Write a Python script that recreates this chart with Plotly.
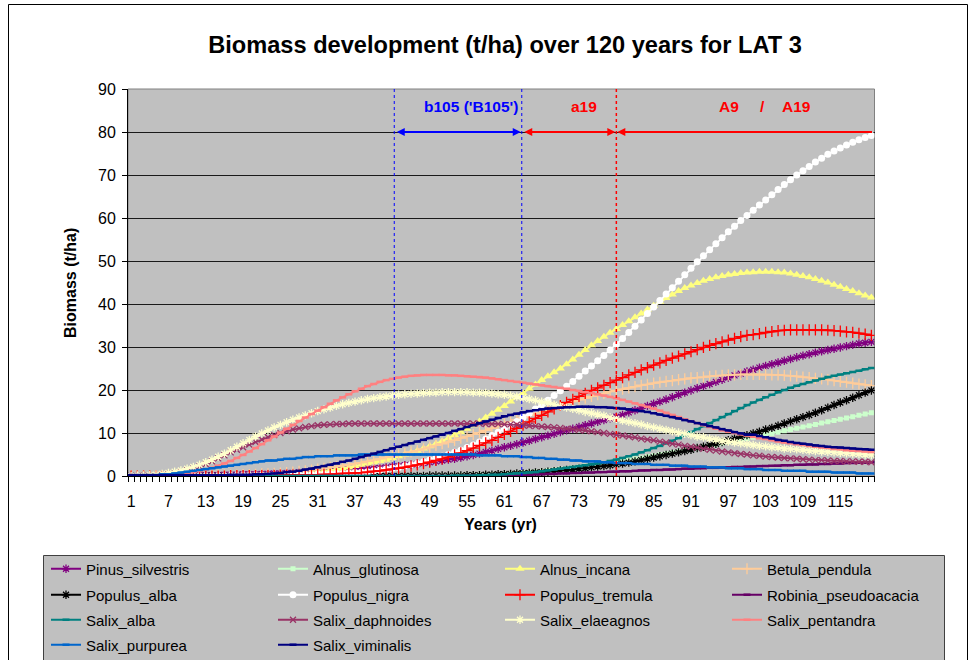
import plotly.graph_objects as go

# ---- data -------------------------------------------------------------
years = list(range(1, 121))
year_ticks = list(range(1, 121, 6))

species = [
    "Pinus_silvestris", "Alnus_glutinosa", "Alnus_incana", "Betula_pendula",
    "Populus_alba", "Populus_nigra", "Populus_tremula", "Robinia_pseudoacacia",
    "Salix_alba", "Salix_daphnoides", "Salix_elaeagnos", "Salix_pentandra",
    "Salix_purpurea", "Salix_viminalis",
]

pinus_silvestris = [
    0.0, 0.0, 0.0, 0.0, 0.0, 0.1, 0.1, 0.1, 0.1, 0.1,
    0.1, 0.2, 0.2, 0.2, 0.2, 0.3, 0.3, 0.3, 0.4, 0.4,
    0.4, 0.5, 0.5, 0.6, 0.6, 0.7, 0.7, 0.8, 0.9, 0.9,
    1.0, 1.1, 1.2, 1.3, 1.4, 1.5, 1.6, 1.7, 1.8, 1.8,
    1.9, 2.0, 2.2, 2.3, 2.5, 2.6, 2.8, 3.0, 3.2, 3.4,
    3.6, 3.8, 4.0, 4.3, 4.6, 4.9, 5.2, 5.6, 5.9, 6.3,
    6.7, 7.0, 7.4, 7.8, 8.2, 8.6, 9.0, 9.4, 9.8, 10.2,
    10.6, 11.0, 11.4, 11.8, 12.2, 12.6, 13.0, 13.4, 13.8, 14.2,
    14.8, 15.3, 15.8, 16.3, 16.8, 17.3, 17.8, 18.3, 18.9, 19.4,
    19.9, 20.4, 20.9, 21.4, 21.9, 22.4, 22.9, 23.4, 23.8, 24.3,
    24.7, 25.2, 25.6, 26.0, 26.4, 26.8, 27.2, 27.6, 28.0, 28.3,
    28.7, 29.0, 29.3, 29.6, 29.9, 30.2, 30.5, 30.8, 31.0, 31.2,
]
alnus_glutinosa = [
    0.0, 0.0, 0.0, 0.0, 0.0, 0.0, 0.0, 0.0, 0.0, 0.0,
    0.0, 0.0, 0.0, 0.0, 0.0, 0.0, 0.0, 0.0, 0.0, 0.0,
    0.0, 0.0, 0.0, 0.0, 0.0, 0.0, 0.0, 0.0, 0.0, 0.0,
    0.0, 0.0, 0.0, 0.0, 0.0, 0.0, 0.0, 0.0, 0.0, 0.0,
    0.0, 0.0, 0.0, 0.0, 0.0, 0.0, 0.0, 0.1, 0.1, 0.1,
    0.1, 0.1, 0.1, 0.2, 0.2, 0.2, 0.3, 0.3, 0.4, 0.4,
    0.5, 0.6, 0.7, 0.8, 0.9, 1.0, 1.1, 1.3, 1.4, 1.6,
    1.7, 1.9, 2.1, 2.3, 2.5, 2.7, 2.9, 3.1, 3.3, 3.5,
    3.8, 4.0, 4.2, 4.5, 4.7, 5.0, 5.2, 5.5, 5.7, 6.0,
    6.2, 6.5, 6.8, 7.0, 7.3, 7.6, 7.9, 8.1, 8.4, 8.7,
    9.0, 9.3, 9.6, 9.9, 10.2, 10.5, 10.8, 11.1, 11.4, 11.7,
    12.0, 12.3, 12.6, 12.9, 13.2, 13.5, 13.8, 14.1, 14.4, 14.7,
]
alnus_incana = [
    0.0, 0.0, 0.0, 0.0, 0.0, 0.0, 0.0, 0.0, 0.0, 0.0,
    0.0, 0.0, 0.0, 0.0, 0.1, 0.1, 0.1, 0.1, 0.2, 0.2,
    0.2, 0.3, 0.3, 0.4, 0.4, 0.5, 0.6, 0.6, 0.7, 0.8,
    1.0, 1.1, 1.3, 1.5, 1.7, 2.0, 2.3, 2.6, 2.9, 3.2,
    3.5, 3.8, 4.2, 4.6, 5.0, 5.4, 5.9, 6.4, 6.9, 7.5,
    8.1, 8.8, 9.5, 10.2, 11.0, 11.8, 12.7, 13.6, 14.5, 15.4,
    16.3, 17.3, 18.3, 19.3, 20.3, 21.3, 22.3, 23.2, 24.1, 25.0,
    26.0, 27.1, 28.2, 29.3, 30.4, 31.4, 32.4, 33.3, 34.2, 35.1,
    36.0, 36.9, 37.8, 38.7, 39.6, 40.5, 41.4, 42.2, 43.0, 43.7,
    44.3, 44.9, 45.4, 45.8, 46.2, 46.5, 46.8, 47.0, 47.2, 47.3,
    47.4, 47.5, 47.5, 47.5, 47.4, 47.3, 47.1, 46.8, 46.5, 46.2,
    45.8, 45.4, 45.0, 44.5, 44.0, 43.5, 43.0, 42.5, 42.0, 41.5,
]
betula_pendula = [
    0.0, 0.0, 0.0, 0.0, 0.0, 0.0, 0.0, 0.0, 0.0, 0.1,
    0.1, 0.1, 0.1, 0.1, 0.2, 0.2, 0.2, 0.2, 0.3, 0.3,
    0.4, 0.5, 0.5, 0.6, 0.7, 0.8, 0.9, 1.1, 1.2, 1.4,
    1.6, 1.8, 2.0, 2.2, 2.4, 2.6, 2.9, 3.1, 3.4, 3.7,
    4.0, 4.3, 4.6, 4.9, 5.2, 5.6, 5.9, 6.3, 6.7, 7.1,
    7.5, 7.9, 8.3, 8.8, 9.2, 9.7, 10.1, 10.6, 11.1, 11.6,
    12.1, 12.6, 13.1, 13.6, 14.1, 14.6, 15.1, 15.6, 16.0, 16.5,
    16.9, 17.3, 17.7, 18.1, 18.5, 18.9, 19.2, 19.6, 19.9, 20.2,
    20.5, 20.8, 21.1, 21.3, 21.6, 21.8, 22.0, 22.2, 22.4, 22.6,
    22.8, 22.9, 23.0, 23.2, 23.3, 23.4, 23.5, 23.5, 23.6, 23.6,
    23.6, 23.6, 23.6, 23.5, 23.5, 23.4, 23.3, 23.2, 23.0, 22.9,
    22.7, 22.6, 22.4, 22.2, 22.0, 21.8, 21.6, 21.4, 21.2, 21.0,
]
populus_alba = [
    0.0, 0.0, 0.0, 0.0, 0.0, 0.0, 0.0, 0.0, 0.0, 0.0,
    0.0, 0.0, 0.0, 0.0, 0.0, 0.0, 0.0, 0.0, 0.0, 0.0,
    0.0, 0.0, 0.0, 0.0, 0.0, 0.0, 0.0, 0.0, 0.0, 0.0,
    0.0, 0.0, 0.0, 0.0, 0.0, 0.0, 0.0, 0.0, 0.0, 0.0,
    0.0, 0.0, 0.0, 0.0, 0.0, 0.0, 0.0, 0.0, 0.1, 0.1,
    0.1, 0.1, 0.1, 0.1, 0.2, 0.2, 0.2, 0.3, 0.3, 0.4,
    0.4, 0.5, 0.6, 0.6, 0.7, 0.8, 0.9, 1.0, 1.1, 1.3,
    1.4, 1.5, 1.7, 1.8, 2.0, 2.2, 2.3, 2.5, 2.7, 2.9,
    3.1, 3.4, 3.7, 4.0, 4.3, 4.6, 4.9, 5.2, 5.5, 5.8,
    6.1, 6.5, 6.8, 7.2, 7.5, 7.9, 8.3, 8.7, 9.1, 9.5,
    9.9, 10.3, 10.8, 11.2, 11.7, 12.2, 12.7, 13.2, 13.7, 14.2,
    14.7, 15.3, 15.9, 16.5, 17.1, 17.6, 18.2, 18.8, 19.4, 19.9,
]
populus_nigra = [
    0.0, 0.0, 0.0, 0.0, 0.0, 0.0, 0.0, 0.0, 0.0, 0.0,
    0.0, 0.0, 0.0, 0.0, 0.0, 0.0, 0.1, 0.1, 0.1, 0.1,
    0.1, 0.1, 0.1, 0.2, 0.2, 0.2, 0.2, 0.3, 0.3, 0.3,
    0.4, 0.4, 0.5, 0.6, 0.6, 0.7, 0.8, 0.9, 1.0, 1.2,
    1.4, 1.6, 1.8, 2.0, 2.3, 2.6, 2.9, 3.3, 3.7, 4.1,
    4.6, 5.0, 5.5, 6.0, 6.6, 7.2, 7.9, 8.6, 9.4, 10.2,
    11.0, 11.8, 12.7, 13.6, 14.6, 15.6, 16.6, 17.6, 18.7, 19.8,
    20.9, 22.0, 23.2, 24.4, 25.6, 26.8, 28.0, 29.3, 30.6, 32.0,
    33.4, 34.8, 36.3, 37.8, 39.3, 40.8, 42.3, 43.8, 45.3, 46.8,
    48.3, 49.8, 51.2, 52.6, 54.0, 55.4, 56.8, 58.1, 59.4, 60.6,
    61.8, 63.0, 64.2, 65.4, 66.6, 67.8, 68.9, 70.0, 71.0, 72.0,
    73.0, 73.9, 74.8, 75.6, 76.3, 77.0, 77.6, 78.2, 78.7, 79.2,
]
populus_tremula = [
    0.0, 0.0, 0.0, 0.0, 0.0, 0.0, 0.0, 0.0, 0.0, 0.0,
    0.0, 0.0, 0.0, 0.0, 0.0, 0.0, 0.1, 0.1, 0.1, 0.1,
    0.1, 0.1, 0.1, 0.1, 0.2, 0.2, 0.2, 0.2, 0.3, 0.3,
    0.3, 0.4, 0.4, 0.5, 0.6, 0.6, 0.7, 0.8, 0.9, 1.1,
    1.2, 1.4, 1.6, 1.8, 2.0, 2.3, 2.6, 2.9, 3.2, 3.6,
    4.0, 4.4, 4.9, 5.4, 5.9, 6.5, 7.1, 7.7, 8.3, 9.0,
    9.7, 10.4, 11.1, 11.8, 12.6, 13.4, 14.1, 14.9, 15.6, 16.4,
    17.1, 17.8, 18.5, 19.2, 19.9, 20.5, 21.1, 21.7, 22.3, 22.9,
    23.5, 24.1, 24.7, 25.2, 25.8, 26.3, 26.9, 27.4, 27.9, 28.4,
    28.9, 29.4, 29.9, 30.4, 30.8, 31.2, 31.6, 32.0, 32.4, 32.7,
    32.9, 33.1, 33.4, 33.6, 33.8, 33.9, 34.0, 34.0, 34.0, 34.0,
    34.0, 34.0, 33.9, 33.8, 33.7, 33.5, 33.4, 33.2, 33.0, 32.7,
]
robinia_pseudoacacia = [
    0.0, 0.0, 0.0, 0.0, 0.0, 0.0, 0.0, 0.0, 0.0, 0.0,
    0.0, 0.0, 0.0, 0.0, 0.0, 0.0, 0.0, 0.0, 0.0, 0.0,
    0.0, 0.0, 0.0, 0.0, 0.0, 0.0, 0.0, 0.0, 0.0, 0.0,
    0.0, 0.0, 0.0, 0.0, 0.0, 0.0, 0.0, 0.0, 0.0, 0.0,
    0.0, 0.0, 0.0, 0.0, 0.0, 0.0, 0.0, 0.0, 0.0, 0.0,
    0.0, 0.0, 0.0, 0.0, 0.1, 0.1, 0.1, 0.1, 0.2, 0.2,
    0.2, 0.2, 0.3, 0.3, 0.3, 0.4, 0.4, 0.5, 0.5, 0.6,
    0.6, 0.7, 0.7, 0.8, 0.8, 0.9, 0.9, 1.0, 1.0, 1.1,
    1.1, 1.2, 1.3, 1.3, 1.4, 1.4, 1.5, 1.5, 1.6, 1.7,
    1.7, 1.8, 1.8, 1.9, 1.9, 2.0, 2.0, 2.1, 2.1, 2.2,
    2.2, 2.3, 2.3, 2.4, 2.4, 2.5, 2.5, 2.6, 2.6, 2.7,
    2.7, 2.8, 2.8, 2.9, 2.9, 3.0, 3.0, 3.1, 3.1, 3.2,
]
salix_alba = [
    0.0, 0.0, 0.0, 0.0, 0.0, 0.0, 0.0, 0.0, 0.0, 0.0,
    0.0, 0.0, 0.0, 0.0, 0.0, 0.0, 0.0, 0.0, 0.0, 0.0,
    0.0, 0.0, 0.0, 0.0, 0.0, 0.0, 0.0, 0.0, 0.0, 0.0,
    0.0, 0.0, 0.0, 0.0, 0.0, 0.0, 0.0, 0.0, 0.0, 0.0,
    0.0, 0.0, 0.0, 0.0, 0.0, 0.0, 0.0, 0.0, 0.0, 0.0,
    0.0, 0.0, 0.1, 0.1, 0.1, 0.1, 0.2, 0.2, 0.3, 0.3,
    0.4, 0.5, 0.6, 0.7, 0.8, 0.9, 1.1, 1.3, 1.5, 1.7,
    1.9, 2.1, 2.3, 2.5, 2.7, 2.9, 3.2, 3.5, 3.8, 4.2,
    4.6, 5.0, 5.5, 6.0, 6.5, 7.0, 7.6, 8.2, 8.8, 9.5,
    10.2, 10.9, 11.6, 12.3, 13.0, 13.7, 14.4, 15.1, 15.8, 16.5,
    17.1, 17.7, 18.3, 18.9, 19.5, 20.0, 20.5, 21.0, 21.4, 21.8,
    22.2, 22.6, 23.0, 23.3, 23.6, 23.9, 24.2, 24.5, 24.8, 25.1,
]
salix_daphnoides = [
    0.0, 0.0, 0.1, 0.1, 0.2, 0.3, 0.5, 0.7, 1.0, 1.3,
    1.7, 2.2, 2.8, 3.4, 4.1, 4.8, 5.5, 6.1, 6.7, 7.3,
    7.9, 8.5, 9.0, 9.5, 10.0, 10.4, 10.8, 11.1, 11.4, 11.6,
    11.8, 11.9, 12.0, 12.1, 12.1, 12.2, 12.2, 12.2, 12.2, 12.2,
    12.2, 12.2, 12.2, 12.2, 12.2, 12.2, 12.2, 12.2, 12.2, 12.2,
    12.2, 12.2, 12.2, 12.2, 12.2, 12.2, 12.2, 12.1, 12.1, 12.1,
    12.0, 12.0, 11.9, 11.8, 11.7, 11.6, 11.5, 11.4, 11.3, 11.2,
    11.0, 10.9, 10.7, 10.6, 10.4, 10.2, 10.0, 9.8, 9.6, 9.4,
    9.2, 9.0, 8.7, 8.5, 8.3, 8.0, 7.8, 7.5, 7.3, 7.0,
    6.8, 6.6, 6.3, 6.1, 5.9, 5.7, 5.5, 5.3, 5.1, 5.0,
    4.8, 4.7, 4.5, 4.4, 4.3, 4.2, 4.1, 4.0, 3.9, 3.8,
    3.7, 3.7, 3.6, 3.5, 3.5, 3.4, 3.4, 3.3, 3.3, 3.2,
]
salix_elaeagnos = [
    0.0, 0.1, 0.1, 0.2, 0.3, 0.5, 0.7, 1.0, 1.3, 1.7,
    2.1, 2.6, 3.2, 3.8, 4.5, 5.2, 6.0, 6.8, 7.6, 8.4,
    9.2, 9.9, 10.6, 11.3, 11.9, 12.5, 13.1, 13.6, 14.1, 14.6,
    15.1, 15.5, 15.9, 16.3, 16.7, 17.0, 17.3, 17.6, 17.9, 18.1,
    18.3, 18.5, 18.7, 18.9, 19.0, 19.1, 19.2, 19.3, 19.4, 19.4,
    19.5, 19.5, 19.5, 19.5, 19.5, 19.4, 19.4, 19.3, 19.2, 19.0,
    18.9, 18.7, 18.5, 18.2, 17.9, 17.6, 17.3, 17.0, 16.6, 16.2,
    15.9, 15.6, 15.3, 14.9, 14.6, 14.3, 14.0, 13.6, 13.3, 12.9,
    12.6, 12.3, 12.0, 11.6, 11.3, 11.0, 10.7, 10.4, 10.1, 9.8,
    9.5, 9.2, 9.0, 8.7, 8.5, 8.2, 8.0, 7.8, 7.6, 7.4,
    7.2, 7.0, 6.9, 6.7, 6.6, 6.4, 6.3, 6.2, 6.1, 5.9,
    5.8, 5.7, 5.6, 5.5, 5.4, 5.3, 5.2, 5.1, 5.0, 4.9,
]
salix_pentandra = [
    0.0, 0.0, 0.1, 0.1, 0.1, 0.2, 0.3, 0.4, 0.5, 0.7,
    0.9, 1.2, 1.5, 1.9, 2.4, 2.9, 3.5, 4.2, 4.9, 5.7,
    6.5, 7.4, 8.3, 9.2, 10.1, 11.0, 11.9, 12.8, 13.6, 14.4,
    15.2, 16.0, 16.8, 17.6, 18.3, 19.0, 19.7, 20.3, 20.9, 21.4,
    21.9, 22.3, 22.6, 22.9, 23.1, 23.3, 23.4, 23.5, 23.5, 23.5,
    23.5, 23.4, 23.4, 23.3, 23.2, 23.1, 23.0, 22.9, 22.7, 22.5,
    22.3, 22.1, 21.9, 21.7, 21.5, 21.3, 21.1, 20.9, 20.7, 20.5,
    20.3, 20.0, 19.8, 19.5, 19.3, 19.0, 18.7, 18.4, 18.1, 17.7,
    17.3, 16.9, 16.5, 16.1, 15.7, 15.2, 14.7, 14.2, 13.7, 13.2,
    12.7, 12.3, 11.8, 11.4, 11.0, 10.6, 10.3, 10.0, 9.7, 9.4,
    9.1, 8.8, 8.6, 8.3, 8.0, 7.8, 7.6, 7.4, 7.2, 7.0,
    6.8, 6.6, 6.5, 6.3, 6.2, 6.0, 5.9, 5.8, 5.7, 5.6,
]
salix_purpurea = [
    0.2, 0.2, 0.2, 0.2, 0.2, 0.4, 0.4, 0.6, 0.8, 1.0,
    1.2, 1.4, 1.6, 1.8, 2.0, 2.2, 2.4, 2.6, 2.8, 3.0,
    3.2, 3.4, 3.6, 3.6, 3.8, 4.0, 4.0, 4.2, 4.4, 4.4,
    4.6, 4.6, 4.6, 4.8, 4.8, 4.8, 4.8, 5.0, 5.0, 5.0,
    5.0, 5.0, 5.0, 5.0, 5.0, 5.0, 5.0, 5.0, 5.0, 5.0,
    5.0, 5.0, 5.0, 5.0, 5.0, 5.0, 4.8, 4.8, 4.8, 4.8,
    4.6, 4.6, 4.6, 4.4, 4.4, 4.2, 4.2, 4.0, 4.0, 3.8,
    3.8, 3.6, 3.6, 3.4, 3.4, 3.4, 3.2, 3.2, 3.0, 3.0,
    3.0, 2.8, 2.8, 2.8, 2.6, 2.6, 2.6, 2.4, 2.4, 2.4,
    2.2, 2.2, 2.2, 2.0, 2.0, 2.0, 1.8, 1.8, 1.8, 1.6,
    1.6, 1.6, 1.4, 1.4, 1.4, 1.2, 1.2, 1.2, 1.2, 1.0,
    1.0, 1.0, 1.0, 0.8, 0.8, 0.8, 0.8, 0.6, 0.6, 0.6,
]
salix_viminalis = [
    0.2, 0.2, 0.2, 0.2, 0.2, 0.2, 0.2, 0.2, 0.2, 0.2,
    0.2, 0.2, 0.2, 0.2, 0.2, 0.2, 0.3, 0.3, 0.3, 0.3,
    0.4, 0.4, 0.5, 0.6, 0.7, 0.9, 1.0, 1.2, 1.5, 1.7,
    2.0, 2.3, 2.6, 2.9, 3.3, 3.6, 4.0, 4.4, 4.8, 5.2,
    5.6, 6.0, 6.4, 6.8, 7.2, 7.6, 8.0, 8.4, 8.8, 9.2,
    9.6, 10.0, 10.5, 10.9, 11.4, 11.8, 12.3, 12.7, 13.1, 13.5,
    13.9, 14.2, 14.5, 14.8, 15.1, 15.3, 15.5, 15.7, 15.8, 15.9,
    16.0, 16.0, 16.1, 16.1, 16.1, 16.0, 16.0, 15.9, 15.8, 15.7,
    15.5, 15.3, 15.1, 14.9, 14.6, 14.3, 14.0, 13.7, 13.4, 13.0,
    12.7, 12.3, 12.0, 11.6, 11.3, 10.9, 10.6, 10.2, 9.9, 9.6,
    9.6, 9.3, 9.0, 8.7, 8.4, 8.2, 7.9, 7.7, 7.5, 7.3,
    7.1, 7.0, 6.8, 6.7, 6.6, 6.5, 6.4, 6.3, 6.2, 6.1,
]

series_values = [
    pinus_silvestris, alnus_glutinosa, alnus_incana, betula_pendula,
    populus_alba, populus_nigra, populus_tremula, robinia_pseudoacacia,
    salix_alba, salix_daphnoides, salix_elaeagnos, salix_pentandra,
    salix_purpurea, salix_viminalis,
]

# stand-age periods marked above the curves
period_bounds = [43.3, 63.8, 79.0]
period_labels = ["b105 ('B105')", "a19", "A9", "/", "A19"]
arrow_level = 80

# ---- styling ----------------------------------------------------------
FONT = "Arial, Liberation Sans, sans-serif"
W, H = 972, 660
PLOT_L, PLOT_R, PLOT_T, PLOT_B = 128, 874.5, 89, 476


def px(x):
    return x / W


def py(y):
    return 1 - y / H


# colour, marker symbol, marker size, filled?
styles = {
    "Pinus_silvestris": ("#800080", "asterisk-open", 7, False),
    "Alnus_glutinosa": ("#CCFFCC", "square", 5, True),
    "Alnus_incana": ("#FFFF80", "triangle-up", 8, True),
    "Betula_pendula": ("#FFCC99", "cross-thin-open", 8, False),
    "Populus_alba": ("#000000", "asterisk-open", 7, False),
    "Populus_nigra": ("#FFFFFF", "circle", 7, True),
    "Populus_tremula": ("#FF0000", "cross-thin-open", 8, False),
    "Robinia_pseudoacacia": ("#660066", "line-ew-open", 5, False),
    "Salix_alba": ("#008080", "line-ew-open", 5, False),
    "Salix_daphnoides": ("#993366", "x-thin-open", 6, False),
    "Salix_elaeagnos": ("#FFFFCC", "asterisk-open", 7, False),
    "Salix_pentandra": ("#FF8080", "line-ew-open", 5, False),
    "Salix_purpurea": ("#0066CC", "line-ew-open", 5, False),
    "Salix_viminalis": ("#000080", "line-ew-open", 5, False),
}

legend_names = ["legend", "legend2", "legend3", "legend4"]

fig = go.Figure()
for i, (name, vals) in enumerate(zip(species, series_values)):
    color, symbol, size, filled = styles[name]
    marker = dict(symbol=symbol, size=size, color=color)
    if filled:
        marker["line"] = dict(width=0)
    else:
        marker["line"] = dict(width=2.5 if symbol == "line-ew-open" else 1.3, color=color)
    fig.add_trace(go.Scatter(
        x=years, y=vals, name=name, mode="lines+markers",
        line=dict(color=color, width=1.8),
        marker=marker,
        legend=legend_names[i // 4],
    ))

# ---- period markers -----------------------------------------------------
shapes = []
for xb, col, w in zip(period_bounds, ["#0000FF", "#0000FF", "#FF0000"], [1, 1, 1.5]):
    shapes.append(dict(type="line", xref="x", yref="y", x0=xb, x1=xb, y0=0, y1=90,
                       line=dict(color=col, width=w, dash="dot"), layer="above"))

# plot area frame (top/right grey)
shapes.append(dict(type="rect", xref="paper", yref="paper",
                   x0=px(PLOT_L), x1=px(PLOT_R), y0=py(PLOT_B), y1=py(PLOT_T),
                   line=dict(color="#808080", width=1), layer="below"))
# legend box
shapes.append(dict(type="rect", xref="paper", yref="paper",
                   x0=px(43.5), x1=px(944.5), y0=py(668), y1=py(555.5),
                   fillcolor="#C0C0C0", line=dict(color="#404040", width=1), layer="below"))
# chart frame
shapes.append(dict(type="rect", xref="paper", yref="paper",
                   x0=px(8.5), x1=px(967.5), y0=py(670), y1=py(4.5),
                   line=dict(color="#000000", width=1), layer="below"))

annotations = []
arrow_specs = [
    (period_bounds[1], period_bounds[0], "#0000FF", "end+start"),
    (period_bounds[2], period_bounds[1], "#FF0000", "end+start"),
    (period_bounds[2], 120.5, "#FF0000", "end"),
]
for x_head, x_tail, col, side in arrow_specs:
    annotations.append(dict(
        x=x_head, y=arrow_level, ax=x_tail, ay=arrow_level,
        xref="x", yref="y", axref="x", ayref="y", text="",
        showarrow=True, arrowhead=2, arrowsize=0.8, arrowwidth=2,
        arrowcolor=col, arrowside=side, standoff=1, startstandoff=1,
    ))

label_pos = [(471, "#0000FF"), (584, "#FF0000"), (729, "#FF0000"), (762, "#FF0000"), (796, "#FF0000")]
for txt, (lx, col) in zip(period_labels, label_pos):
    annotations.append(dict(
        x=px(lx), y=py(106), xref="paper", yref="paper", text=f"<b>{txt}</b>",
        showarrow=False, font=dict(family=FONT, size=15.5, color=col),
        xanchor="center", yanchor="middle",
    ))

# axis titles
annotations.append(dict(x=px(501), y=py(524), xref="paper", yref="paper",
                        text="<b>Years (yr)</b>", showarrow=False,
                        font=dict(family=FONT, size=16, color="#000000"),
                        xanchor="center", yanchor="middle"))
annotations.append(dict(x=px(71), y=py(283), xref="paper", yref="paper",
                        text="<b>Biomass (t/ha)</b>", showarrow=False, textangle=-90,
                        font=dict(family=FONT, size=16, color="#000000"),
                        xanchor="center", yanchor="middle"))

row_centres = [569, 595, 620, 645]
legends = {}
for name, yc in zip(legend_names, row_centres):
    legends[name] = dict(
        orientation="h", x=px(46), y=py(yc), xanchor="left", yanchor="middle",
        bgcolor="rgba(0,0,0,0)", borderwidth=0, entrywidth=182, entrywidthmode="pixels",
        font=dict(family=FONT, size=15, color="#000000"),
        traceorder="normal",
    )

fig.update_layout(
    width=W, height=H,
    margin=dict(l=0, r=0, t=0, b=0, autoexpand=False),
    paper_bgcolor="#FFFFFF", plot_bgcolor="#C0C0C0",
    font=dict(family=FONT, size=16, color="#000000"),
    title=dict(text="<b>Biomass development (t/ha) over 120 years for LAT 3</b>",
               x=px(505), y=py(45), xanchor="center", yanchor="middle",
               xref="paper", yref="paper",
               font=dict(family=FONT, size=23.6, color="#000000")),
    xaxis=dict(domain=[px(PLOT_L), px(PLOT_R)], range=[0.5, 120.5],
               tickmode="array", tickvals=year_ticks, ticktext=[str(t) for t in year_ticks],
               ticks="", showgrid=False, zeroline=False,
               showline=True, linecolor="#000000", linewidth=1,
               minor=dict(ticks="outside", tick0=0.5, dtick=1, ticklen=5,
                          tickcolor="#000000", tickwidth=1, showgrid=False),
               ticklabelstandoff=11,
               tickfont=dict(family=FONT, size=16)),
    yaxis=dict(domain=[py(PLOT_B), py(PLOT_T)], range=[0, 90], dtick=10,
               ticks="outside", ticklen=5, tickcolor="#000000",
               showgrid=True, gridcolor="#1A1A1A", gridwidth=1, zeroline=False,
               showline=True, linecolor="#000000", linewidth=1,
               ticklabelstandoff=3,
               tickfont=dict(family=FONT, size=16)),
    shapes=shapes,
    annotations=annotations,
    **legends,
)

fig.write_html("out.html")
